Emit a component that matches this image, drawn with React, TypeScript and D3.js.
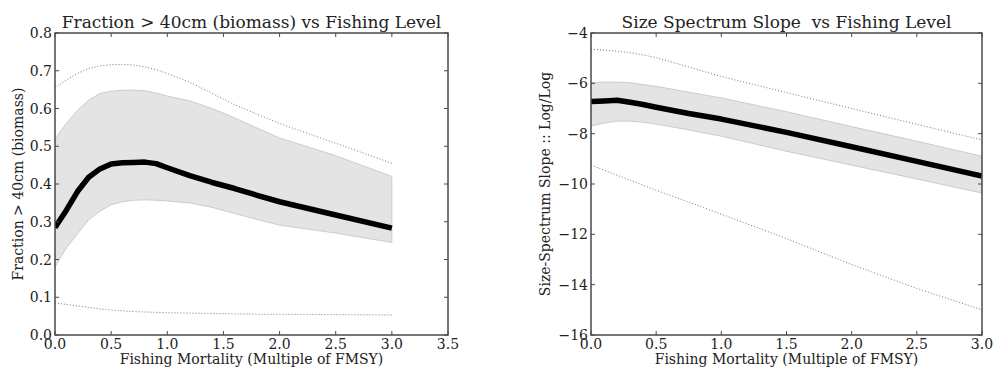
import React from "react";
import * as d3 from "d3";

// ---------- data ----------
const leftX = [0, 0.1, 0.2, 0.3, 0.4, 0.5, 0.6, 0.7, 0.8, 0.9, 1.0, 1.2, 1.4, 1.6, 1.8, 2.0, 2.5, 3.0];
const leftMean = [0.285, 0.33, 0.38, 0.418, 0.44, 0.453, 0.456, 0.457, 0.458, 0.454, 0.443, 0.422, 0.404, 0.388, 0.37, 0.353, 0.318, 0.283];
const leftBandHi = [0.52, 0.56, 0.595, 0.622, 0.64, 0.646, 0.648, 0.649, 0.647, 0.641, 0.633, 0.62, 0.6, 0.575, 0.548, 0.522, 0.475, 0.42];
const leftBandLo = [0.18, 0.23, 0.268, 0.305, 0.328, 0.345, 0.353, 0.357, 0.358, 0.357, 0.355, 0.35, 0.338, 0.322, 0.306, 0.291, 0.27, 0.245];
const leftDotHi = [0.655, 0.675, 0.693, 0.706, 0.713, 0.716, 0.717, 0.715, 0.71, 0.703, 0.693, 0.67, 0.64, 0.61, 0.585, 0.56, 0.508, 0.455];
const leftDotLo = [0.085, 0.081, 0.077, 0.073, 0.069, 0.066, 0.064, 0.062, 0.061, 0.06, 0.059, 0.058, 0.057, 0.056, 0.055, 0.055, 0.054, 0.053];

const rightX = [0, 0.1, 0.2, 0.3, 0.4, 0.5, 0.75, 1.0, 1.5, 2.0, 2.5, 3.0];
const rightMean = [-6.72, -6.7, -6.67, -6.75, -6.84, -6.95, -7.2, -7.42, -7.95, -8.52, -9.1, -9.68];
const rightBandHi = [-5.97, -5.95, -5.95, -5.98, -6.05, -6.12, -6.35, -6.58, -7.13, -7.72, -8.3, -8.9];
const rightBandLo = [-7.7, -7.58, -7.5, -7.5, -7.55, -7.62, -7.85, -8.1, -8.7, -9.25, -9.8, -10.36];
const rightDotHi = [-4.65, -4.68, -4.72, -4.78, -4.87, -4.98, -5.35, -5.73, -6.37, -7.0, -7.63, -8.25];
const rightDotLo = [-9.25, -9.45, -9.65, -9.85, -10.05, -10.25, -10.72, -11.2, -12.17, -13.2, -14.15, -15.0];

const leftXTicks = [0, 0.5, 1.0, 1.5, 2.0, 2.5, 3.0, 3.5];
const leftYTicks = [0, 0.1, 0.2, 0.3, 0.4, 0.5, 0.6, 0.7, 0.8];
const rightXTicks = [0, 0.5, 1.0, 1.5, 2.0, 2.5, 3.0];
const rightYTicks = [-16, -14, -12, -10, -8, -6, -4];

const leftTitle = "Fraction > 40cm (biomass) vs Fishing Level";
const rightTitle = "Size Spectrum Slope  vs Fishing Level";
const xLabel = "Fishing Mortality (Multiple of FMSY)";
const leftYLabel = "Fraction > 40cm (biomass)";
const rightYLabel = "Size-Spectrum Slope :: Log/Log";

const FONT = "'DejaVu Serif', serif";

type PanelProps = {
  x0: number; x1: number; y0: number; y1: number;
  xDomain: [number, number]; yDomain: [number, number];
  xs: number[]; mean: number[]; hi: number[]; lo: number[]; dHi: number[]; dLo: number[];
  xTicks: number[]; yTicks: number[]; yFmt: (v: number) => string;
  title: string; yLabel: string; yLabelX: number;
};

function Panel(p: PanelProps) {
  const x = d3.scaleLinear().domain(p.xDomain).range([p.x0, p.x1]);
  const y = d3.scaleLinear().domain(p.yDomain).range([p.y1, p.y0]);
  const idx = p.xs.map((_, i) => i);
  const area = d3.area<number>().x(i => x(p.xs[i])).y0(i => y(p.lo[i])).y1(i => y(p.hi[i]));
  const mk = (arr: number[]) => d3.line<number>().x(i => x(p.xs[i])).y(i => y(arr[i]))(idx) || "";
  const tl = 4;
  const frame = "#4a4a4a";
  return (
    <g>
      <defs>
        <clipPath id={`clip-${p.x0}`}>
          <rect x={p.x0} y={p.y0} width={p.x1 - p.x0} height={p.y1 - p.y0} />
        </clipPath>
      </defs>
      <g clipPath={`url(#clip-${p.x0})`}>
        <path d={area(idx) || ""} fill="#e4e4e4" stroke="#cccccc" strokeWidth={1} />
        <path d={mk(p.dHi)} fill="none" stroke="#777" strokeWidth={1} strokeDasharray="1,2" />
        <path d={mk(p.dLo)} fill="none" stroke="#777" strokeWidth={1} strokeDasharray="1,2" />
        <path d={mk(p.mean)} fill="none" stroke="#000" strokeWidth={5.5} strokeLinejoin="round" />
      </g>
      {p.xTicks.map(t => (
        <g key={`xt${t}`}>
          <line x1={x(t)} x2={x(t)} y1={p.y1} y2={p.y1 - tl} stroke={frame} strokeWidth={1} />
          <line x1={x(t)} x2={x(t)} y1={p.y0} y2={p.y0 + tl} stroke={frame} strokeWidth={1} />
          <text x={x(t)} y={349} fontSize={14} fontFamily={FONT} textAnchor="middle" fill="#222">{t.toFixed(1)}</text>
        </g>
      ))}
      {p.yTicks.map(t => (
        <g key={`yt${t}`}>
          <line x1={p.x0} x2={p.x0 + tl} y1={y(t)} y2={y(t)} stroke={frame} strokeWidth={1} />
          <line x1={p.x1} x2={p.x1 - tl} y1={y(t)} y2={y(t)} stroke={frame} strokeWidth={1} />
          <text x={p.x0 - 3} y={y(t) + 5} fontSize={14} fontFamily={FONT} textAnchor="end" fill="#222">{p.yFmt(t)}</text>
        </g>
      ))}
      <rect x={p.x0} y={p.y0} width={p.x1 - p.x0} height={p.y1 - p.y0} fill="none" stroke={frame} strokeWidth={1.5} />
      <text x={(p.x0 + p.x1) / 2} y={28} fontSize={17} fontFamily={FONT} textAnchor="middle" fill="#222" style={{ whiteSpace: "pre" }}>{p.title}</text>
      <text x={(p.x0 + p.x1) / 2} y={364} fontSize={14} fontFamily={FONT} textAnchor="middle" fill="#222">{xLabel}</text>
      <text transform={`translate(${p.yLabelX},${(p.y0 + p.y1) / 2}) rotate(-90)`} fontSize={14} fontFamily={FONT} textAnchor="middle" fill="#222">{p.yLabel}</text>
    </g>
  );
}

export default function App() {
  return (
    <svg width={994} height={367} style={{ position: "absolute", left: 0, top: 0, background: "#fff" }}>
      <rect width={994} height={367} fill="#fff" />
      <Panel x0={55} x1={448} y0={33} y1={335} xDomain={[0, 3.5]} yDomain={[0, 0.8]}
        xs={leftX} mean={leftMean} hi={leftBandHi} lo={leftBandLo} dHi={leftDotHi} dLo={leftDotLo}
        xTicks={leftXTicks} yTicks={leftYTicks} yFmt={v => v.toFixed(1)}
        title={leftTitle} yLabel={leftYLabel} yLabelX={23} />
      <Panel x0={591} x1={982} y0={33} y1={335} xDomain={[0, 3]} yDomain={[-16, -4]}
        xs={rightX} mean={rightMean} hi={rightBandHi} lo={rightBandLo} dHi={rightDotHi} dLo={rightDotLo}
        xTicks={rightXTicks} yTicks={rightYTicks} yFmt={v => (v < 0 ? "\u2212" + Math.abs(v) : String(v))}
        title={rightTitle} yLabel={rightYLabel} yLabelX={550} />
    </svg>
  );
}
